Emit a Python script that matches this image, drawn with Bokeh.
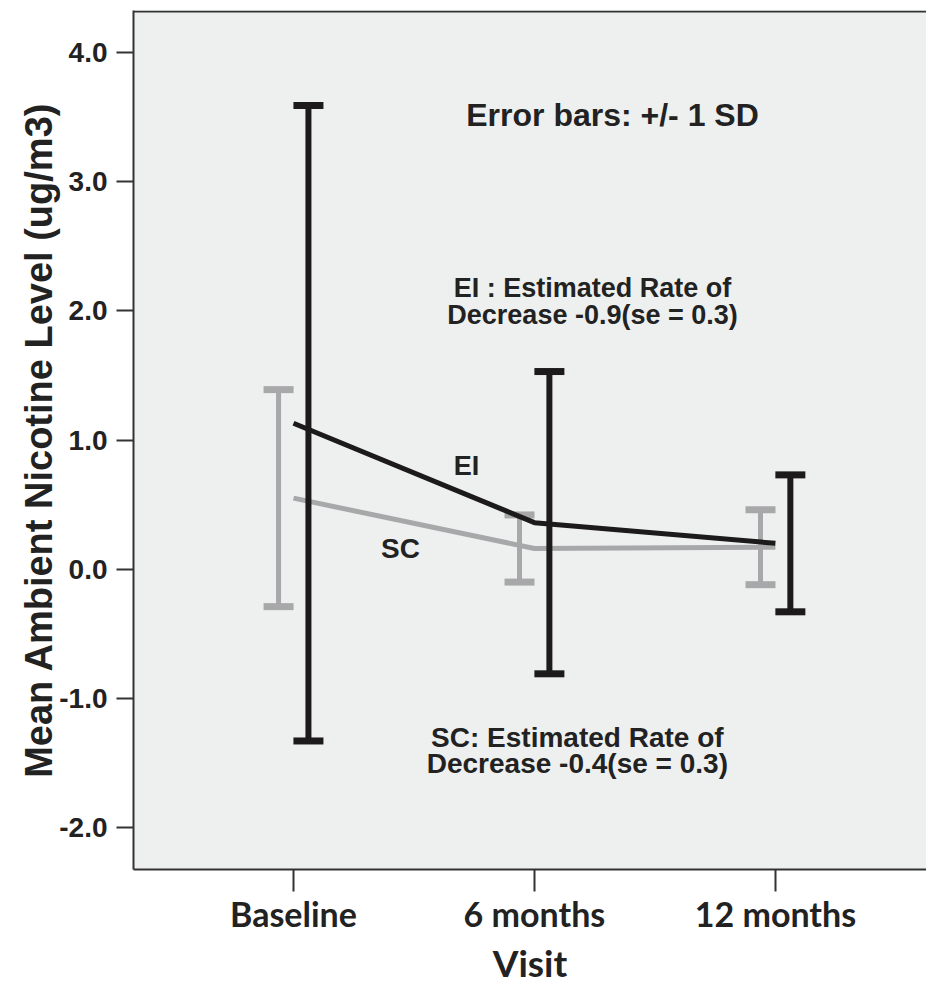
from bokeh.plotting import figure
from bokeh.models import ColumnDataSource, Range1d, FixedTicker, Label, Title, Span
from bokeh.transform import dodge
from bokeh.embed import file_html
from bokeh.resources import INLINE

# ---- data ----
visits = ["Baseline", "6 months", "12 months"]
visit_pos = [0, 1, 2]
ei_mean = [1.13, 0.36, 0.20]
ei_sd = [2.46, 1.17, 0.53]
sc_mean = [0.55, 0.16, 0.17]
sc_sd = [0.84, 0.26, 0.29]
y_ticks = [-2.0, -1.0, 0.0, 1.0, 2.0, 3.0, 4.0]

BLACK = "#1c1a1b"
GRAY = "#a8a8aa"
BG = "#eef0ef"
AX = "#333333"

ei = ColumnDataSource(dict(x=visit_pos, m=ei_mean,
                           lo=[m - s for m, s in zip(ei_mean, ei_sd)],
                           hi=[m + s for m, s in zip(ei_mean, ei_sd)]))
sc = ColumnDataSource(dict(x=visit_pos, m=sc_mean,
                           lo=[m - s for m, s in zip(sc_mean, sc_sd)],
                           hi=[m + s for m, s in zip(sc_mean, sc_sd)]))

p = figure(width=926, height=987, output_backend="svg", toolbar_location=None,
           x_range=Range1d(-0.664, 2.627), y_range=Range1d(-2.325, 4.325),
           min_border_left=133, min_border_right=0, min_border_top=10, min_border_bottom=118)

p.background_fill_color = BG
p.border_fill_color = "white"
p.outline_line_color = None
p.grid.visible = False

# top edge of the plot box (the right edge runs off the picture)
p.add_layout(Span(location=4.317, dimension="width", line_color=AX, line_width=2))

# axes
p.xaxis.ticker = FixedTicker(ticks=visit_pos)
p.xaxis.major_label_overrides = {i: v for i, v in zip(visit_pos, visits)}
p.yaxis.ticker = FixedTicker(ticks=y_ticks)
p.yaxis.major_label_overrides = {t: f"{t:.1f}" for t in y_ticks}
p.xaxis.minor_tick_line_color = None
p.yaxis.minor_tick_line_color = None
for ax in (p.xaxis, p.yaxis):
    ax.axis_line_color = AX
    ax.axis_line_width = 2
    ax.major_tick_line_color = AX
    ax.major_tick_line_width = 2
    ax.major_tick_in = 0
    ax.axis_label_text_font_style = "bold"
    ax.major_label_text_font_style = "bold"
    ax.major_label_text_color = "#222222"
    ax.axis_label_text_color = "#222222"

p.xaxis.major_tick_out = 22
p.xaxis.major_label_standoff = 1
p.xaxis.major_label_text_font = "Lato"
p.xaxis.major_label_text_font_size = "34px"

p.yaxis.major_tick_out = 17
p.yaxis.major_label_standoff = 9
p.yaxis.major_label_text_font = "Liberation Sans"
p.yaxis.major_label_text_font_size = "28px"
p.yaxis.axis_label = "Mean Ambient Nicotine Level (ug/m3)"
p.yaxis.axis_label_text_font = "Liberation Sans"
p.yaxis.axis_label_text_font_size = "38px"
p.yaxis.axis_label_standoff = -4

# x-axis title, placed below the axis
p.add_layout(Title(text="Visit", align="center", offset=17, standoff=3,
                   text_font="Lato", text_font_style="bold", text_font_size="37px",
                   text_color="#222222"), "below")

OFF = 0.062

# SC error bars (gray), behind
p.segment(x0=dodge("x", -OFF), y0="lo", x1=dodge("x", -OFF), y1="hi", source=sc,
          line_color=GRAY, line_width=5)
for f in ("lo", "hi"):
    p.rect(x=dodge("x", -OFF), y=f, width=30, height=7, width_units="screen",
           height_units="screen", source=sc, fill_color=GRAY, line_color=None)

# mean lines
p.line("x", "m", source=sc, line_color=GRAY, line_width=5)
p.line("x", "m", source=ei, line_color=BLACK, line_width=5)

# EI error bars (black)
p.segment(x0=dodge("x", OFF), y0="lo", x1=dodge("x", OFF), y1="hi", source=ei,
          line_color=BLACK, line_width=6)
for f in ("lo", "hi"):
    p.rect(x=dodge("x", OFF), y=f, width=30, height=7, width_units="screen",
           height_units="screen", source=ei, fill_color=BLACK, line_color=None)

# annotations
def lab(x, y, text, size, font="Liberation Sans"):
    p.add_layout(Label(x=x, y=y, text=text, text_font=font,
                       text_font_style="bold", text_font_size=size, text_color="#222222",
                       text_align="center", text_baseline="alphabetic"))

lab(1.324, 3.515, "Error bars: +/- 1 SD", "32px")
lab(1.241, 2.174, "EI : Estimated Rate of", "27px")
lab(1.241, 1.964, "Decrease -0.9(se = 0.3)", "27px")
lab(1.178, -1.301, "SC: Estimated Rate of", "28px")
lab(1.178, -1.503, "Decrease -0.4(se = 0.3)", "28px")
lab(0.718, 0.796, "EI", "27px")
lab(0.444, 0.162, "SC", "28px")

open("out.html", "w").write(file_html(p, INLINE))
